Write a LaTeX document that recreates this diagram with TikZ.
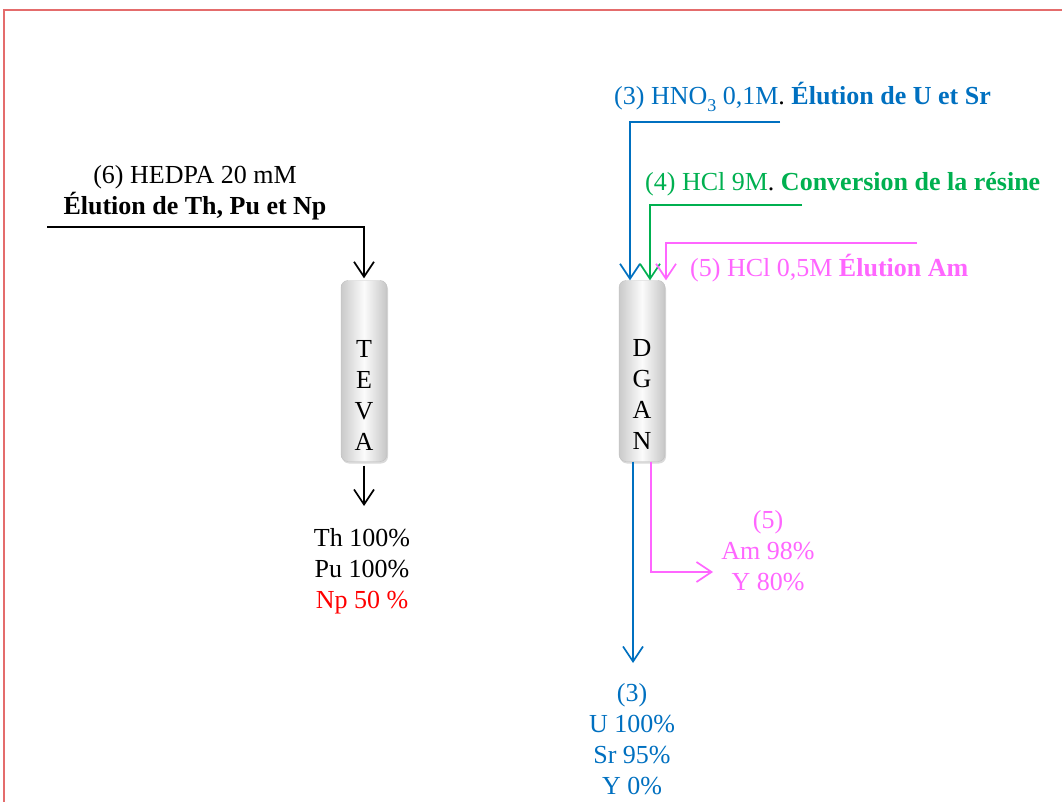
\documentclass[tikz,border=0pt]{standalone}
\usepackage{fontspec}
\setmainfont{Liberation Serif}
\usetikzlibrary{arrows.meta, positioning, calc, shadows}

\definecolor{eluBlue}{RGB}{0,112,192}
\definecolor{eluGreen}{RGB}{0,176,80}
\definecolor{eluPink}{RGB}{255,102,255}
\definecolor{frameRed}{RGB}{228,108,108}

\newcommand{\subthree}{\raisebox{-7pt}{\fontsize{18}{20}\selectfont 3}}

\begin{document}
\begin{tikzpicture}[x=1pt, y=-1pt, font=\fontsize{26}{31}\selectfont,
        >={Straight Barb[length=15pt, width=20pt]},
        column/.style={rectangle, rounded corners=7pt, draw=gray!50, minimum width=46pt, minimum height=181pt, left color=gray!42, right color=gray!45, middle color=gray!3, drop shadow={opacity=0.3, shadow xshift=1pt, shadow yshift=-2pt}},
        letters/.style={align=center, inner sep=0pt},
        txt/.style={inner sep=0pt, align=center},
        flow/.style={line width=1.7pt}]

      \useasboundingbox (0,0) rectangle (1062,802);

      % 1. Frame (top and left edges only)
      \draw[frameRed, line width=1.5pt] (4,802) -- (4,10) -- (1062,10);

      % 2. Columns
      \node [column] (teva) at (364,371) {};
      \node [letters] (tevaTxt) at (364,395) {T\\E\\V\\A};

      \node [column] (dgan) at (642,371) {};
      \node [letters] (dganTxt) at (642,394) {D\\G\\A\\N};

      % 3. Eluents (inputs)
      \node [txt] (hedpa) at (195,193) {(6) HEDPA 20 mM\\\textbf{Élution de Th, Pu et Np}};
      \node [txt, anchor=west, text=eluBlue] (hno) at (614,97) {(3) HNO\subthree{} 0,1M\textcolor{black}{.} \textbf{Élution de U et Sr}};
      \node [txt, anchor=west, text=eluGreen] (hcl) at (645,184) {(4) HCl 9M\textcolor{black}{.} \textbf{Conversion de la résine}};
      \node [txt, anchor=west, text=eluPink] (am) at (690,268) {(5) HCl 0,5M \textbf{Élution Am}};

      \coordinate (hedpaIn) at (47,227);
      \coordinate (hnoIn) at (780,122);
      \coordinate (hclIn) at (802,205);
      \coordinate (amIn) at (917,243);

      % 4. Fractions (outputs)
      \node [txt] (tevaOut) at (362,571) {Th 100\%\\Pu 100\%\\\textcolor{red}{Np 50 \%}};
      \node [txt, text=eluPink] (amOut) at (768,551) {(5)\\Am 98\%\\Y 80\%};
      \node [txt, text=eluBlue] (uOut) at (632,739) {(3)\\U 100\%\\Sr 95\%\\Y 0\%};

      \coordinate (tevaEnd) at (364,506);
      \coordinate (uEnd) at (633,663);
      \coordinate (amEnd) at (713,572);

      % 5. Connections
      \draw [flow, ->, shorten >=2pt] (hedpaIn) -| (teva.north);
      \draw [flow, ->, shorten <=4pt] (teva.south) -- (tevaEnd);

      \draw [flow, eluBlue, ->] (hnoIn) -| ($(dgan.north)+(-12,0)$);
      \draw [flow, eluGreen, ->] (hclIn) -| ($(dgan.north)+(8,0)$);
      \draw [flow, eluPink, ->] (amIn) -| ($(dgan.north)+(24,0)$);

      \draw [flow, eluBlue, ->] ($(dgan.south)+(-9,0)$) -- (uEnd);
      \draw [flow, eluPink, ->] ($(dgan.south)+(9,0)$) |- (amEnd);
    \end{tikzpicture}
\end{document}
